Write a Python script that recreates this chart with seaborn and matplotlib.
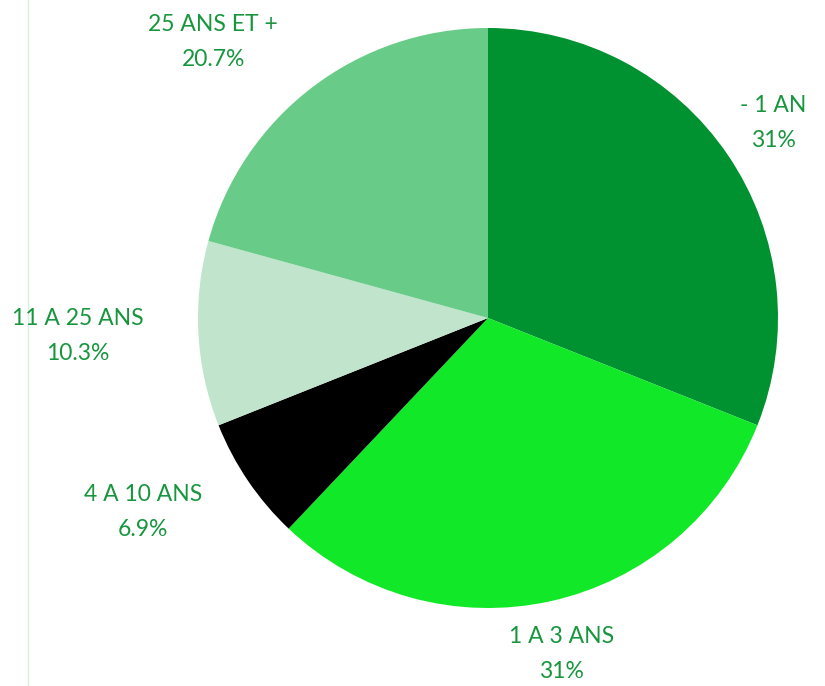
import matplotlib.pyplot as plt
import seaborn as sns

categories = ["- 1 AN", "1 A 3 ANS", "4 A 10 ANS", "11 A 25 ANS", "25 ANS ET +"]
shares = [31.0, 31.0, 6.9, 10.3, 20.7]
share_labels = ["31%", "31%", "6.9%", "10.3%", "20.7%"]
slice_colors = ["#009130", "#10e828", "#000000", "#c1e4cd", "#68cc88"]

# label anchors, in pie radii relative to the centre
label_offsets = [(0.983, 0.672), (0.255, -1.159), (-1.190, -0.669),
                 (-1.414, -0.062), (-0.948, 0.952)]

sns.set_theme(style="white")
plt.rcParams["font.family"] = ["Lato", "DejaVu Sans"]

fig = plt.figure(figsize=(8.25, 6.86), dpi=100)
ax = fig.add_axes([0, 0, 1, 1])

ax.pie(shares, colors=slice_colors, startangle=90, counterclock=False,
       radius=1, wedgeprops={"linewidth": 0})

for cat, lab, (dx, dy) in zip(categories, share_labels, label_offsets):
    ax.text(dx, dy, f"{cat}\n{lab}", ha="center", va="center",
            fontsize=16.5, color="#17963e", linespacing=1.85)

# thin guide line on the left
ax.axvline(-1.586, color="#d6f0de", linewidth=1)

px = 290
ax.set_xlim(-488 / px, (825 - 488) / px)
ax.set_ylim((318 - 686) / px, 318 / px)
ax.set_aspect("auto")
ax.axis("off")

fig.savefig("out.png", dpi=100, facecolor="white")
